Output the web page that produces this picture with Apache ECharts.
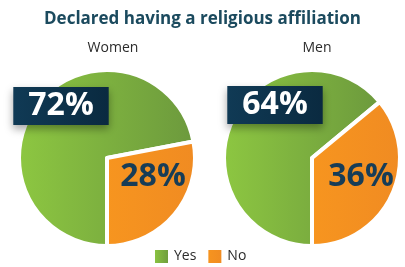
<!DOCTYPE html>
<html>
<head>
<meta charset="utf-8">
<script src="https://cdn.jsdelivr.net/npm/echarts@6/dist/echarts.min.js"></script>
<style>
  html, body { margin: 0; padding: 0; background: #fff; }
  #chart { width: 405px; height: 267px; }
</style>
</head>
<body>
<div id="chart"></div>
<script>
const groups = ['Women', 'Men'];
const answers = ['Yes', 'No'];
const yesValues = [72, 64];
const noValues = [28, 36];

const chart = echarts.init(document.getElementById('chart'));

// pie centres and label anchor points (pixels)
const centers = [[107, 158], [312, 158]];
const yesLabelPos = [[61, 106], [275, 105]];
const noLabelPos = [[153, 177], [361, 177]];

const green = new echarts.graphic.LinearGradient(0, 0, 1, 0, [
    { offset: 0, color: '#8dc741' },
    { offset: 1, color: '#6c993d' }
]);
const orange = new echarts.graphic.LinearGradient(0, 0, 1, 0, [
    { offset: 0, color: '#f7951f' },
    { offset: 1, color: '#f08b22' }
]);
const navy = new echarts.graphic.LinearGradient(0, 0, 1, 0, [
    { offset: 0, color: '#103a55' },
    { offset: 1, color: '#0a2a40' }
]);

const series = groups.map(function (g, i) {
    return {
        name: g,
        type: 'pie',
        center: centers[i],
        radius: 88,
        startAngle: 270,
        silent: true,
        itemStyle: { borderColor: '#fff', borderWidth: 4 },
        labelLine: { show: false },
        labelLayout: function (p) {
            const pos = p.dataIndex === 0 ? yesLabelPos[i] : noLabelPos[i];
            return { x: pos[0], y: pos[1], align: 'center', verticalAlign: 'middle' };
        },
        data: [
            {
                name: answers[0],
                value: yesValues[i],
                itemStyle: { color: green },
                label: {
                    show: true,
                    position: 'inside',
                    formatter: '{c}%',
                    color: '#fff',
                    fontFamily: 'Open Sans',
                    fontWeight: 'bold',
                    fontSize: 32,
                    lineHeight: 32,
                    backgroundColor: navy,
                    padding: [3, 15, 3, 15],
                    shadowColor: 'rgba(0,0,0,0.35)',
                    shadowBlur: 8,
                    shadowOffsetY: 4
                }
            },
            {
                name: answers[1],
                value: noValues[i],
                itemStyle: { color: orange },
                label: {
                    show: true,
                    position: 'inside',
                    formatter: '{c}%',
                    color: '#173d57',
                    fontFamily: 'Open Sans',
                    fontWeight: 'bold',
                    fontSize: 32
                }
            }
        ]
    };
});

chart.setOption({
    animation: false,
    title: [
        {
            text: 'Declared having a religious affiliation',
            left: 'center',
            top: 6,
            textStyle: { fontFamily: 'Open Sans', fontWeight: 'bold', fontSize: 17, color: '#1b4a5e' }
        },
        {
            text: groups[0],
            left: 108,
            top: 36,
            textAlign: 'center',
            textStyle: { fontFamily: 'Open Sans', fontWeight: 'normal', fontSize: 14, color: '#2b2b2b' }
        },
        {
            text: groups[1],
            left: 312,
            top: 36,
            textAlign: 'center',
            textStyle: { fontFamily: 'Open Sans', fontWeight: 'normal', fontSize: 14, color: '#2b2b2b' }
        }
    ],
    legend: {
        data: answers,
        top: 243,
        left: 148,
        icon: 'rect',
        itemWidth: 15,
        itemHeight: 15,
        itemGap: 10,
        selectedMode: false,
        textStyle: { fontFamily: 'Open Sans', fontSize: 14, color: '#2b2b2b' }
    },
    series: series
});
</script>
</body>
</html>
